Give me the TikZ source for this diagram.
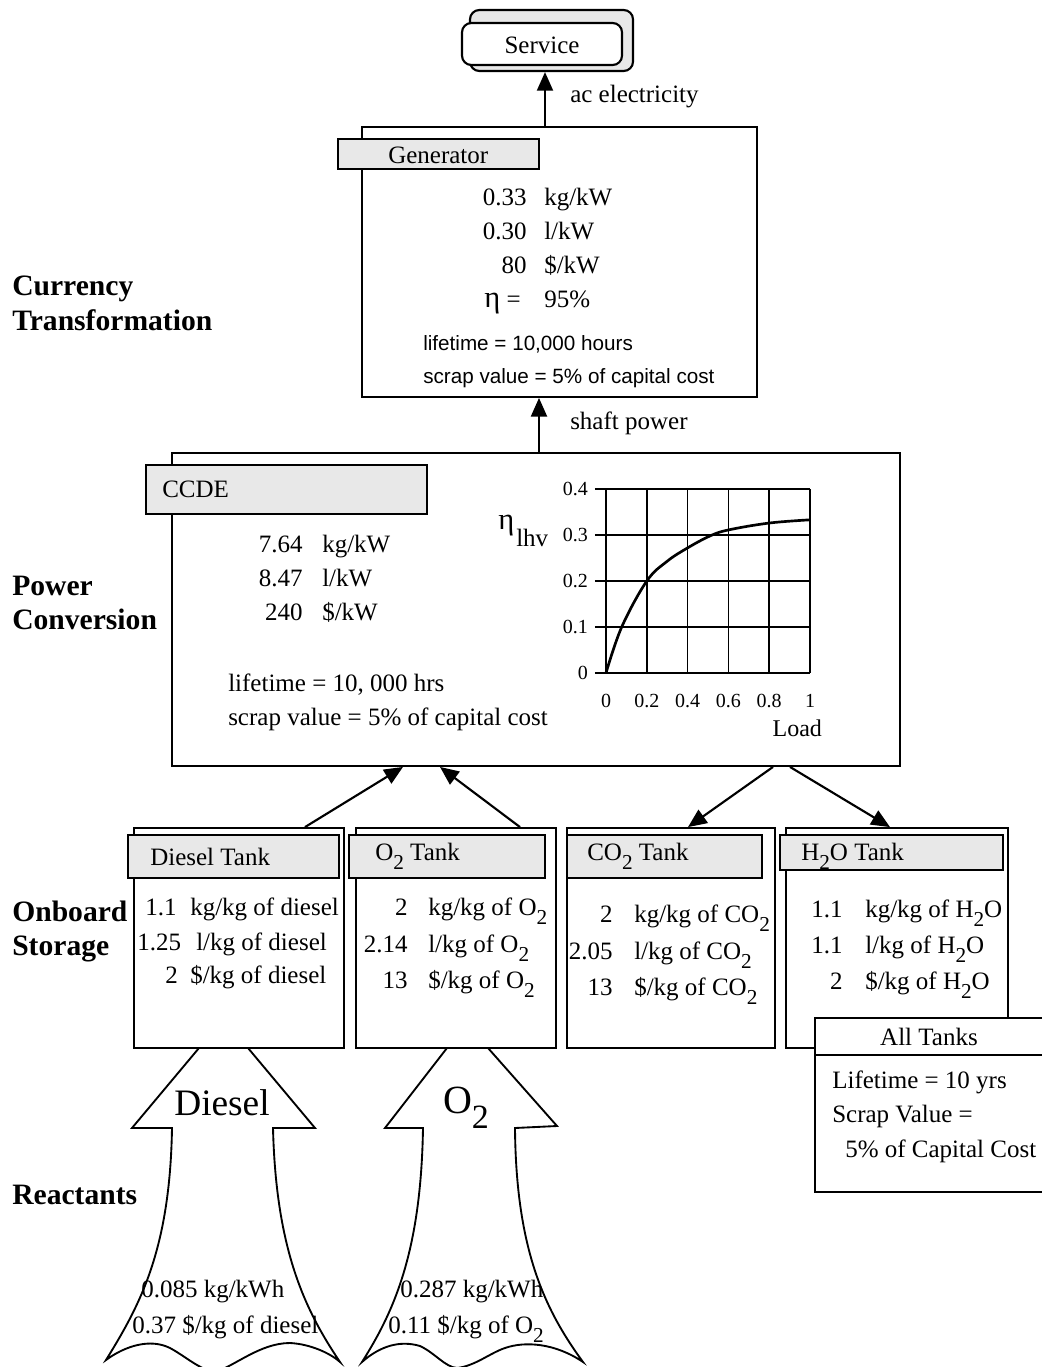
\documentclass[tikz,border=0pt]{standalone}
\usepackage{fontspec}
\setmainfont{Liberation Serif}
\newfontfamily\hv{Liberation Sans}
\usepackage{graphicx}
\usetikzlibrary{arrows.meta,fit,calc}
\newcommand\fmain{\fontsize{18.75pt}{22pt}\selectfont}
\newcommand\ftick{\fontsize{15pt}{18pt}\selectfont}
\newcommand\flab{\fontsize{22.2pt}{26pt}\selectfont}
\newcommand\fsans{\hv\fontsize{15.5pt}{18pt}\selectfont}
\newcommand\fbig{\fontsize{28pt}{32pt}\selectfont}
\newcommand\lowt{\raisebox{-0.38em}{\scalebox{0.85}{2}}}
\newcommand\bigeta{\scalebox{1.22}{η}}
\begin{document}
\begin{tikzpicture}[x=0.75pt,y=-0.75pt,
  box/.style={draw,line width=1.4pt,fill=white,inner sep=0pt},
  hdr/.style={draw,line width=1.6pt,fill=black!9,inner sep=0pt},
  t/.style={inner sep=0pt,font=\fmain},
  tl/.style={t,anchor=base west},
  tr/.style={t,anchor=base east},
  lab/.style={inner sep=0pt,anchor=base west,font=\flab\bfseries},
  sans/.style={inner sep=0pt,anchor=base west,font=\fsans},
  arr/.style={line width=1.6pt,-{Triangle[length=14pt,width=12pt]}},
  big/.style={line width=1.4pt,fill=white,line join=miter}]
\fill[white] (0,0) rectangle (1042,1367);
\useasboundingbox (0,0) rectangle (1042,1367);

% ---------- reactant arrows ----------
\draw[big] (199,1048) -- (132,1128) -- (172,1128)
  .. controls (170,1250) and (140,1305) .. (106,1360)
  .. controls (125,1346) and (150,1338) .. (170,1348)
  .. controls (185,1356) and (200,1370) .. (215,1372)
  .. controls (235,1366) and (260,1343) .. (290,1343)
  .. controls (310,1344) and (330,1353) .. (340,1362)
  .. controls (305,1310) and (276,1250) .. (273,1128)
  -- (315,1128) -- (248,1048);
\draw[big] (447,1048) -- (385,1128) -- (423,1128)
  .. controls (421,1250) and (395,1310) .. (362,1362)
  .. controls (380,1346) and (400,1340) .. (420,1346)
  .. controls (435,1353) and (445,1367) .. (457,1368)
  .. controls (475,1366) and (490,1353) .. (505,1348)
  .. controls (525,1341) and (555,1343) .. (583,1362)
  .. controls (545,1310) and (516,1250) .. (515,1128)
  -- (557,1126) -- (488,1048);
\node[inner sep=0pt,anchor=base,font=\fbig] (dbig) at (222,1115) {Diesel};
\node[inner sep=0pt,anchor=base,font=\fontsize{30pt}{34pt}\selectfont] (obig) at (466,1113) {O\lowt};
\node[tl] (dr1) at (141,1297) {0.085 kg/kWh};
\node[tl] (dr2) at (132,1333) {0.37 \$/kg of diesel};
\node[tl] (or1) at (400,1297) {0.287 kg/kWh};
\node[tl] (or2) at (388,1333) {0.11 \$/kg of O\lowt};

% ---------- left labels ----------
\node[lab] (l1) at (12,295) {Currency};
\node[lab] (l2) at (12,330) {Transformation};
\node[lab] (l3) at (12,595) {Power};
\node[lab] (l4) at (12,629) {Conversion};
\node[lab] (l5) at (12,921) {Onboard};
\node[lab] (l6) at (12,955) {Storage};
\node[lab] (l7) at (12,1204) {Reactants};

% ---------- service ----------
\node[hdr,rounded corners=7pt,fit={(470,10)(633,71)}] (servb) {};
\node[box,rounded corners=7pt,line width=1.6pt,fit={(462,23)(622,65)}] (serv) {};
\node[t,anchor=base] (servt) at (542,53) {Service};

% ---------- generator ----------
\node[box,fit={(362,127)(757,397)}] (gen) {};
\node[hdr,fit={(338,139)(539,169)}] (genh) {};
\node[tl] (gent) at (388,163) {Generator};
\node[tr] (g1n) at (527,205) {0.33};
\node[tl] (g1u) at (544,205) {kg/kW};
\node[tr] (g2n) at (527,239) {0.30};
\node[tl] (g2u) at (544,239) {l/kW};
\node[tr] (g3n) at (527,273) {80};
\node[tl] (g3u) at (544,273) {\$/kW};
\node[tr] (g4n) at (521,307) {\bigeta\ =};
\node[tl] (g4u) at (544,307) {95\%};
\node[sans] (g5) at (423,350) {lifetime = 10,000 hours};
\node[sans] (g6) at (423,383) {scrap value = 5\% of capital cost};

\coordinate (p1) at ($(gen.north)+(-14.5,0)$);
\draw[arr] (p1) -- (p1 |- servb.south);
\node[tl] (acel) at (570,102) {ac electricity};

% ---------- CCDE ----------
\node[box,fit={(172,453)(900,766)}] (ccde) {};
\node[hdr,fit={(146,465)(427,514)}] (ccdeh) {};
\node[tl] (ccdet) at (162,497) {CCDE};
\node[tr] (c1n) at (303,552) {7.64};
\node[tl] (c1u) at (322,552) {kg/kW};
\node[tr] (c2n) at (303,586) {8.47};
\node[tl] (c2u) at (322,586) {l/kW};
\node[tr] (c3n) at (303,620) {240};
\node[tl] (c3u) at (322,620) {\$/kW};
\node[tl] (c4) at (228,691) {lifetime = 10, 000 hrs};
\node[tl] (c5) at (228,725) {scrap value = 5\% of capital cost};

\coordinate (p2) at ($(ccde.north)+(3,0)$);
\draw[arr] (p2) -- (p2 |- gen.south);
\node[tl] (shp) at (570,429) {shaft power};

% plot
\node[t,anchor=base west] (eta) at (498,529) {\bigeta};
\node[t,anchor=base west] (lhv) at (516,546) {lhv};
\begin{scope}[shift={(606,673)},x=153pt,y=345pt]
  \foreach \v in {0,0.2,0.4,0.6,0.8,1}
    \draw[line width=1.2pt] (\v,0) -- (\v,0.4);
  \foreach \v in {0,0.1,0.2,0.3,0.4}
    \draw[line width=1.2pt] (-0.054,\v) -- (1,\v);
  \foreach \v in {0,0.1,0.2,0.3,0.4}
    \node[inner sep=0pt,anchor=east,font=\ftick] (yt\v) at (-0.088,\v) {\v};
  \foreach \v/\l in {0/0,0.2/0.2,0.4/0.4,0.6/0.6,0.8/0.8,1/1}
    \node[inner sep=0pt,anchor=base,font=\ftick] (xt\v) at (\v,-0.076) {\l};
  \node[inner sep=0pt,anchor=base east,font=\fontsize{18pt}{20pt}\selectfont] (load) at (1.06,-0.139) {Load};
  \draw[line width=2pt] plot[smooth,tension=0.6] coordinates
    {(0,0) (0.077,0.1) (0.2,0.2) (0.3,0.243) (0.4,0.272) (0.51,0.298) (0.6,0.311) (0.8,0.326) (1,0.333)};
\end{scope}

% ---------- tanks ----------
\node[box,fit={(134,828)(344,1048)}] (dt) {};
\node[hdr,fit={(128,835)(339,878)}] (dth) {};
\node[tl] (dtt) at (150,865) {Diesel Tank};
\node[tl] (d1n) at (145,915) {1.1};
\node[tl] (d1u) at (190,915) {kg/kg of diesel};
\node[tl] (d2n) at (137,950) {1.25};
\node[tl] (d2u) at (196,950) {l/kg of diesel};
\node[tl] (d3n) at (165,983) {2};
\node[tl] (d3u) at (190,983) {\$/kg of diesel};

\node[box,fit={(356,828)(556,1048)}] (ot) {};
\node[hdr,fit={(349,835)(545,878)}] (oth) {};
\node[tl] (ott) at (375,860) {O\lowt\ Tank};
\node[tr] (o1n) at (408,915) {2};
\node[tl] (o1u) at (428,915) {kg/kg of O\lowt};
\node[tr] (o2n) at (408,952) {2.14};
\node[tl] (o2u) at (428,952) {l/kg of O\lowt};
\node[tr] (o3n) at (408,988) {13};
\node[tl] (o3u) at (428,988) {\$/kg of O\lowt};

\node[box,fit={(567,828)(775,1048)}] (ct) {};
\node[hdr,fit={(567,835)(762,878)}] (cth) {};
\node[tl] (ctt) at (587,860) {CO\lowt\ Tank};
\node[tr] (k1n) at (613,922) {2};
\node[tl] (k1u) at (634,922) {kg/kg of CO\lowt};
\node[tr] (k2n) at (613,959) {2.05};
\node[tl] (k2u) at (634,959) {l/kg of CO\lowt};
\node[tr] (k3n) at (613,995) {13};
\node[tl] (k3u) at (634,995) {\$/kg of CO\lowt};

\node[box,fit={(786,828)(1008,1048)}] (ht) {};
\node[hdr,fit={(780,835)(1003,870)}] (hth) {};
\node[tl] (htt) at (801,860) {H\lowt O Tank};
\node[tr] (h1n) at (843,917) {1.1};
\node[tl] (h1u) at (865,917) {kg/kg of H\lowt O};
\node[tr] (h2n) at (843,953) {1.1};
\node[tl] (h2u) at (865,953) {l/kg of H\lowt O};
\node[tr] (h3n) at (843,989) {2};
\node[tl] (h3u) at (865,989) {\$/kg of H\lowt O};

\node[box,fit={(815,1018)(1050,1192)}] (all) {};
\draw[line width=1.4pt] (all.west |- 0,1055) -- (all.east |- 0,1055);
\node[t,anchor=base] (allt) at (929,1045) {All Tanks};
\node[tl] (a1) at (832,1088) {Lifetime = 10 yrs};
\node[tl] (a2) at (832,1122) {Scrap Value =};
\node[tl] (a3) at (845,1157) {5\% of Capital Cost};

% ---------- connectors tanks <-> CCDE ----------
\draw[arr] ($(dt.north)+(66,0)$) -- ($(ccde.south)+(-133,0)$);
\draw[arr] ($(ot.north)+(64,0)$) -- ($(ccde.south)+(-96,0)$);
\draw[arr] ($(ccde.south)+(237,0)$) -- ($(ct.north)+(17,0)$);
\draw[arr] ($(ccde.south)+(254,0)$) -- ($(ht.north)+(-7,0)$);
\end{tikzpicture}
\end{document}
